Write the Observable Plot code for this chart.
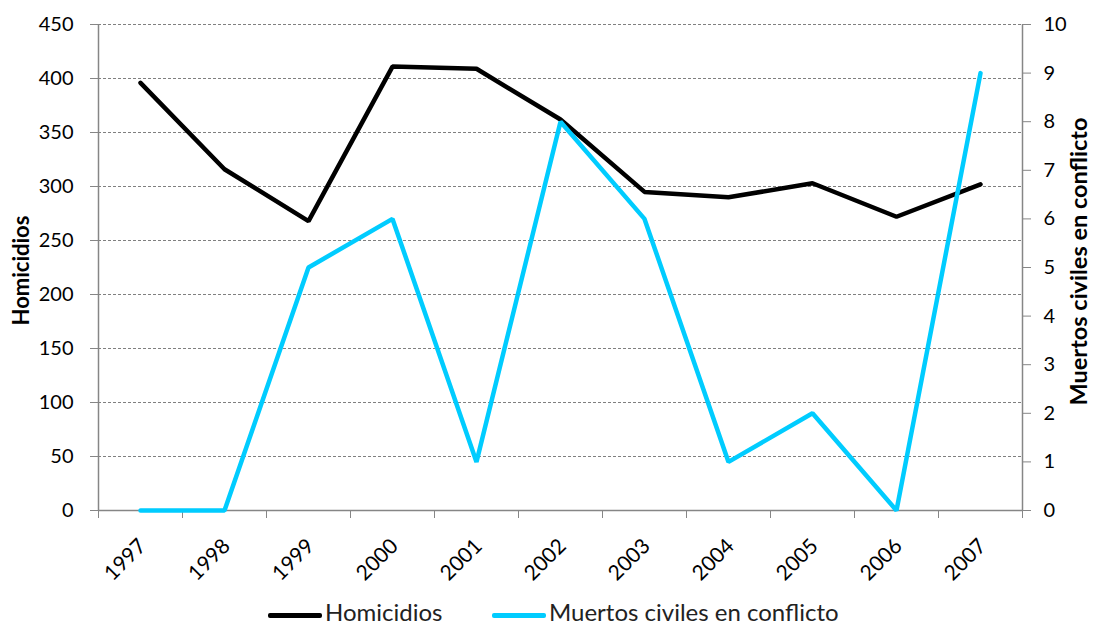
<!DOCTYPE html>
<html>
<head>
<meta charset="utf-8">
<script src="https://cdn.jsdelivr.net/npm/d3@7"></script>
<script src="https://cdn.jsdelivr.net/npm/@observablehq/plot@0.6"></script>
<style>
  html, body { margin: 0; padding: 0; background: #fff; }
  #wrap { position: relative; width: 1094px; height: 627px; font-family: Lato, "Open Sans", sans-serif; overflow: hidden; }
  #legend { position: absolute; top: 600px; left: 0; width: 1094px; height: 27px; }
  .sw { position: absolute; top: 13px; height: 5px; border-radius: 2px; }
  .lt { position: absolute; top: -3px; font-size: 24px; line-height: 30px; color: #222; white-space: nowrap; }
</style>
</head>
<body>
<div id="wrap">
  <div id="chart"></div>
  <div id="legend">
    <div class="sw" style="left:268px;width:54px;background:#000"></div>
    <div class="lt" style="left:325px">Homicidios</div>
    <div class="sw" style="left:492px;width:54px;background:#00ccff"></div>
    <div class="lt" style="left:549px">Muertos civiles en conflicto</div>
  </div>
</div>
<script>
const years = [1997, 1998, 1999, 2000, 2001, 2002, 2003, 2004, 2005, 2006, 2007];
const homicidios = [396, 316, 268, 411, 409, 362, 295, 290, 303, 272, 302];
const muertos = [0, 0, 5, 6, 1, 8, 6, 1, 2, 0, 9];
const leftTicks = [0, 50, 100, 150, 200, 250, 300, 350, 400, 450];
const rightTicks = [0, 1, 2, 3, 4, 5, 6, 7, 8, 9, 10];
const rightMax = 10, leftMax = 450;
const k = leftMax / rightMax;

const data = years.map((y, i) => ({year: y, homicidios: homicidios[i], muertos: muertos[i]}));
const boundaries = years.map(y => y - 0.5).concat([years[years.length - 1] + 0.5]);

const axisColor = "#868686";

const chart = Plot.plot({
  width: 1094,
  height: 600,
  marginLeft: 98,
  marginRight: 72,
  marginTop: 24,
  marginBottom: 90,
  style: {fontFamily: "Lato, 'Open Sans', sans-serif", fontSize: "20px", color: "#000", background: "#fff"},
  x: {domain: [boundaries[0], boundaries[boundaries.length - 1]]},
  y: {domain: [0, leftMax]},
  marks: [
    Plot.gridY(leftTicks.filter(d => d > 0), {stroke: "#808080", strokeOpacity: 1, strokeDasharray: "3,2", strokeWidth: 1}),
    Plot.ruleX([boundaries[0], boundaries[boundaries.length - 1]], {stroke: axisColor, strokeWidth: 1.5}),
    Plot.ruleY([0], {stroke: axisColor, strokeWidth: 1.5}),
    Plot.axisY(leftTicks, {anchor: "left", tickSize: 8, tickPadding: 17, stroke: axisColor, label: null, fill: "#000"}),
    Plot.axisY(rightTicks.map(d => d * k), {anchor: "right", tickSize: 8, tickPadding: 13, stroke: axisColor, label: null, tickFormat: d => String(Math.round(d / k)), fill: "#000"}),
    Plot.axisX(boundaries, {anchor: "bottom", tickSize: 8, tickFormat: () => "", stroke: axisColor, label: null}),
    Plot.axisX(years, {anchor: "bottom", tickSize: 0, tickRotate: -45, tickPadding: 32, dx: 2, fontSize: 21, tickFormat: d => String(d), label: null, fill: "#000"}),
    Plot.text(["Homicidios"], {frameAnchor: "left", textAnchor: "middle", dx: -77, dy: 3, rotate: -90, fontWeight: "bold", fontSize: 22, fill: "#000"}),
    Plot.text(["Muertos civiles en conflicto"], {frameAnchor: "right", textAnchor: "middle", dx: 57, dy: -6, rotate: -90, fontWeight: "bold", fontSize: 23.5, fill: "#000"}),
    Plot.line(data, {x: "year", y: "homicidios", stroke: "#000", strokeWidth: 4.5, strokeLinecap: "round", strokeLinejoin: "miter"}),
    Plot.line(data, {x: "year", y: d => d.muertos * k, stroke: "#00ccff", strokeWidth: 4.5, strokeLinecap: "round", strokeLinejoin: "miter"})
  ]
});
document.getElementById("chart").appendChild(chart);
</script>
</body>
</html>
